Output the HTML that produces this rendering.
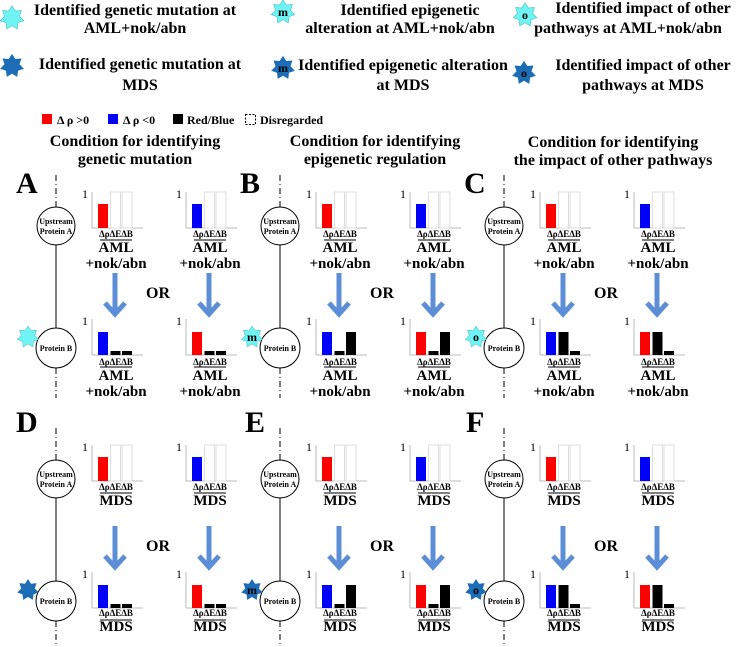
<!DOCTYPE html>
<html><head><meta charset="utf-8"><style>
html,body{margin:0;padding:0;background:#fff}
svg{display:block;font-family:"Liberation Serif","DejaVu Serif","Times New Roman",serif}
svg text{font-family:"Liberation Serif","DejaVu Serif","Times New Roman",serif;font-weight:bold;fill:#000}
.s8{font-size:8px}.s9{font-size:9px}.s15{font-size:15px}.s16{font-size:16px}.s12{font-size:12px}
svg text.one{font-size:12px;font-weight:normal}
</style></head><body>
<svg width="740" height="647" viewBox="0 0 740 647" xmlns="http://www.w3.org/2000/svg" font-family="Liberation Serif, DejaVu Serif, serif" font-weight="bold">
<defs>
<polygon id="st" points="0,-11 3.04,-6.31 8.6,-6.86 6.82,-1.56 10.72,2.45 5.47,4.36 4.77,9.91 0,7 -4.77,9.91 -5.47,4.36 -10.72,2.45 -6.82,-1.56 -8.6,-6.86 -3.04,-6.31"/>
<g id="ax"><path d="M0,0V36H51" fill="none" stroke="#bbb" stroke-width="1"/></g>
<g id="em"><rect x="18.5" y="0" width="10" height="36" fill="none" stroke="#ddd"/><rect x="30" y="0" width="10" height="36" fill="none" stroke="#ddd"/></g>
<g id="arr" fill="none" stroke="#5b8ed6" stroke-width="5"><line x1="0" y1="273" x2="0" y2="313"/><polyline points="-10,303 0,314 10,303"/></g>
<g id="sk">
<line x1="56" y1="175" x2="56" y2="207" stroke="#000" stroke-dasharray="6,3,1,3"/>
<circle cx="56" cy="226" r="19" fill="#fff" stroke="#000"/>
<line x1="56" y1="245" x2="56" y2="328" stroke="#000"/>
<circle cx="56" cy="348" r="20" fill="#fff" stroke="#000"/>
<line x1="56" y1="368" x2="56" y2="398" stroke="#000" stroke-dasharray="6,3,1,3"/>
<use href="#ax" x="92" y="192"/><use href="#em" x="92" y="192"/>
<use href="#ax" x="186" y="192"/><use href="#em" x="186" y="192"/>
<use href="#ax" x="92" y="319"/><use href="#ax" x="186" y="319"/>
<rect x="98" y="204" width="10" height="24" fill="#f00"/>
<rect x="192" y="204" width="10" height="24" fill="#00f"/>
<rect x="98" y="332" width="10" height="23" fill="#00f"/>
<rect x="192" y="332" width="10" height="23" fill="#f00"/>
<line x1="100" y1="240" x2="132" y2="240" stroke="#000"/>
<line x1="194" y1="240" x2="226" y2="240" stroke="#000"/>
<line x1="100" y1="367" x2="132" y2="367" stroke="#000"/>
<line x1="194" y1="367" x2="226" y2="367" stroke="#000"/>
<use href="#arr" x="115"/><use href="#arr" x="209"/>
</g>
<g id="bA"><rect x="110.5" y="351" width="10" height="4"/><rect x="122" y="351" width="10" height="4"/><rect x="204.5" y="351" width="10" height="4"/><rect x="216" y="351" width="10" height="4"/></g>
<g id="bB"><rect x="110.5" y="351" width="10" height="4"/><rect x="122" y="332" width="10" height="23"/><rect x="204.5" y="351" width="10" height="4"/><rect x="216" y="332" width="10" height="23"/></g>
<g id="bC"><rect x="110.5" y="332" width="10" height="23"/><rect x="122" y="351" width="10" height="4"/><rect x="204.5" y="332" width="10" height="23"/><rect x="216" y="351" width="10" height="4"/></g>
</defs>

<use href="#st" transform="translate(12,18) scale(1.1)" fill="#6ff3f3" stroke="#3bbcc8" stroke-width="0.5"/>
<text class="s16" x="135" y="15" text-anchor="middle">Identified genetic mutation at</text>
<text class="s16" x="135" y="33" text-anchor="middle">AML+nok/abn</text>
<use href="#st" transform="translate(283,12) scale(1.1)" fill="#6ff3f3" stroke="#3bbcc8" stroke-width="0.5"/>
<text class="s12" x="283" y="16" text-anchor="middle">m</text>
<text class="s16" x="410" y="15" text-anchor="middle">Identified epigenetic</text>
<text class="s16" x="400" y="33" text-anchor="middle">alteration at AML+nok/abn</text>
<use href="#st" transform="translate(525,15) scale(1.1)" fill="#6ff3f3" stroke="#3bbcc8" stroke-width="0.5"/>
<text class="s12" x="525" y="19" text-anchor="middle">o</text>
<text class="s16" x="643" y="13" text-anchor="middle">Identified impact of other</text>
<text class="s16" x="628" y="33" text-anchor="middle">pathways at AML+nok/abn</text>

<use href="#st" transform="translate(12,66) scale(1.1)" fill="#1c6db5"/>
<text class="s16" x="140" y="69" text-anchor="middle">Identified genetic mutation at</text>
<text class="s16" x="140" y="90" text-anchor="middle">MDS</text>
<use href="#st" transform="translate(283,68) scale(1.1)" fill="#1c6db5"/>
<text class="s12" x="283" y="72" text-anchor="middle">m</text>
<text class="s16" x="403" y="70" text-anchor="middle">Identified epigenetic alteration</text>
<text class="s16" x="403" y="90" text-anchor="middle">at MDS</text>
<use href="#st" transform="translate(524,73) scale(1.1)" fill="#1c6db5"/>
<text class="s12" x="524" y="77" text-anchor="middle">o</text>
<text class="s16" x="643" y="70" text-anchor="middle">Identified impact of other</text>
<text class="s16" x="643" y="90" text-anchor="middle">pathways at MDS</text>

<rect x="42" y="114" width="10" height="10" fill="#f00"/>
<text class="s12" x="57" y="124">Δ ρ &gt;0</text>
<rect x="108" y="114" width="10" height="10" fill="#00f"/>
<text class="s12" x="123" y="124">Δ ρ &lt;0</text>
<rect x="173" y="114" width="10" height="10" fill="#000"/>
<text class="s12" x="187" y="124">Red/Blue</text>
<rect x="245.5" y="114.5" width="10" height="10" fill="none" stroke="#000" stroke-dasharray="2,1.5"/>
<text class="s12" x="260" y="124">Disregarded</text>

<text class="s16" x="135" y="146" text-anchor="middle">Condition for identifying</text>
<text class="s16" x="135" y="164" text-anchor="middle">genetic mutation</text>
<text class="s16" x="375" y="146" text-anchor="middle">Condition for identifying</text>
<text class="s16" x="375" y="164" text-anchor="middle">epigenetic regulation</text>
<text class="s16" x="613" y="147" text-anchor="middle">Condition for identifying</text>
<text class="s16" x="613" y="165" text-anchor="middle">the impact of other pathways</text>

<text x="16" y="193" style="font-size:30px">A</text>
<text x="240" y="193" style="font-size:30px">B</text>
<text x="464" y="193" style="font-size:30px">C</text>
<text x="16" y="432" style="font-size:30px">D</text>
<text x="245" y="432" style="font-size:30px">E</text>
<text x="466" y="432" style="font-size:30px">F</text>

<g transform="translate(0,0)">
<use href="#sk"/><use href="#bA"/>
<use href="#st" transform="translate(28,337)" fill="#6ff3f3" stroke="#3bbcc8" stroke-width="0.5"/>
<text class="s8" x="56" y="224" text-anchor="middle">Upstream</text><text class="s8" x="56" y="234" text-anchor="middle">Protein A</text><text class="s8" x="56" y="351" text-anchor="middle">Protein B</text>
<text class="one" x="82" y="198">1</text><text class="one" x="176" y="198">1</text><text class="one" x="82" y="325">1</text><text class="one" x="176" y="325">1</text>
<text class="s16" x="158" y="298" text-anchor="middle">OR</text>
<text class="s9" x="116" y="237" text-anchor="middle">ΔρΔEΔB</text><text class="s15" x="116" y="252" text-anchor="middle">AML</text><text class="s15" x="116" y="268" text-anchor="middle">+nok/abn</text>
<text class="s9" x="210" y="237" text-anchor="middle">ΔρΔEΔB</text><text class="s15" x="210" y="252" text-anchor="middle">AML</text><text class="s15" x="210" y="268" text-anchor="middle">+nok/abn</text>
<text class="s9" x="116" y="365" text-anchor="middle">ΔρΔEΔB</text><text class="s15" x="116" y="380" text-anchor="middle">AML</text><text class="s15" x="116" y="396" text-anchor="middle">+nok/abn</text>
<text class="s9" x="210" y="365" text-anchor="middle">ΔρΔEΔB</text><text class="s15" x="210" y="380" text-anchor="middle">AML</text><text class="s15" x="210" y="396" text-anchor="middle">+nok/abn</text>
</g>
<g transform="translate(224,0)">
<use href="#sk"/><use href="#bB"/>
<use href="#st" transform="translate(28,337)" fill="#6ff3f3" stroke="#3bbcc8" stroke-width="0.5"/>
<text class="s12" x="28" y="341" text-anchor="middle">m</text>
<text class="s8" x="56" y="224" text-anchor="middle">Upstream</text><text class="s8" x="56" y="234" text-anchor="middle">Protein A</text><text class="s8" x="56" y="351" text-anchor="middle">Protein B</text>
<text class="one" x="82" y="198">1</text><text class="one" x="176" y="198">1</text><text class="one" x="82" y="325">1</text><text class="one" x="176" y="325">1</text>
<text class="s16" x="158" y="298" text-anchor="middle">OR</text>
<text class="s9" x="116" y="237" text-anchor="middle">ΔρΔEΔB</text><text class="s15" x="116" y="252" text-anchor="middle">AML</text><text class="s15" x="116" y="268" text-anchor="middle">+nok/abn</text>
<text class="s9" x="210" y="237" text-anchor="middle">ΔρΔEΔB</text><text class="s15" x="210" y="252" text-anchor="middle">AML</text><text class="s15" x="210" y="268" text-anchor="middle">+nok/abn</text>
<text class="s9" x="116" y="365" text-anchor="middle">ΔρΔEΔB</text><text class="s15" x="116" y="380" text-anchor="middle">AML</text><text class="s15" x="116" y="396" text-anchor="middle">+nok/abn</text>
<text class="s9" x="210" y="365" text-anchor="middle">ΔρΔEΔB</text><text class="s15" x="210" y="380" text-anchor="middle">AML</text><text class="s15" x="210" y="396" text-anchor="middle">+nok/abn</text>
</g>
<g transform="translate(448,0)">
<use href="#sk"/><use href="#bC"/>
<use href="#st" transform="translate(28,337)" fill="#6ff3f3" stroke="#3bbcc8" stroke-width="0.5"/>
<text class="s12" x="28" y="341" text-anchor="middle">o</text>
<text class="s8" x="56" y="224" text-anchor="middle">Upstream</text><text class="s8" x="56" y="234" text-anchor="middle">Protein A</text><text class="s8" x="56" y="351" text-anchor="middle">Protein B</text>
<text class="one" x="82" y="198">1</text><text class="one" x="176" y="198">1</text><text class="one" x="82" y="325">1</text><text class="one" x="176" y="325">1</text>
<text class="s16" x="158" y="298" text-anchor="middle">OR</text>
<text class="s9" x="116" y="237" text-anchor="middle">ΔρΔEΔB</text><text class="s15" x="116" y="252" text-anchor="middle">AML</text><text class="s15" x="116" y="268" text-anchor="middle">+nok/abn</text>
<text class="s9" x="210" y="237" text-anchor="middle">ΔρΔEΔB</text><text class="s15" x="210" y="252" text-anchor="middle">AML</text><text class="s15" x="210" y="268" text-anchor="middle">+nok/abn</text>
<text class="s9" x="116" y="365" text-anchor="middle">ΔρΔEΔB</text><text class="s15" x="116" y="380" text-anchor="middle">AML</text><text class="s15" x="116" y="396" text-anchor="middle">+nok/abn</text>
<text class="s9" x="210" y="365" text-anchor="middle">ΔρΔEΔB</text><text class="s15" x="210" y="380" text-anchor="middle">AML</text><text class="s15" x="210" y="396" text-anchor="middle">+nok/abn</text>
</g>

<g transform="translate(0,253)">
<use href="#sk"/><use href="#bA"/>
<use href="#st" transform="translate(28,337)" fill="#1c6db5"/>
<text class="s8" x="56" y="224" text-anchor="middle">Upstream</text><text class="s8" x="56" y="234" text-anchor="middle">Protein A</text><text class="s8" x="56" y="351" text-anchor="middle">Protein B</text>
<text class="one" x="82" y="198">1</text><text class="one" x="176" y="198">1</text><text class="one" x="82" y="325">1</text><text class="one" x="176" y="325">1</text>
<text class="s16" x="158" y="298" text-anchor="middle">OR</text>
<text class="s9" x="116" y="237" text-anchor="middle">ΔρΔEΔB</text><text class="s15" x="116" y="252" text-anchor="middle">MDS</text>
<text class="s9" x="210" y="237" text-anchor="middle">ΔρΔEΔB</text><text class="s15" x="210" y="252" text-anchor="middle">MDS</text>
<text class="s9" x="116" y="363" text-anchor="middle">ΔρΔEΔB</text><text class="s15" x="116" y="378" text-anchor="middle">MDS</text>
<text class="s9" x="210" y="363" text-anchor="middle">ΔρΔEΔB</text><text class="s15" x="210" y="378" text-anchor="middle">MDS</text>
</g>
<g transform="translate(224,253)">
<use href="#sk"/><use href="#bB"/>
<use href="#st" transform="translate(28,337)" fill="#1c6db5"/>
<text class="s12" x="28" y="341" text-anchor="middle">m</text>
<text class="s8" x="56" y="224" text-anchor="middle">Upstream</text><text class="s8" x="56" y="234" text-anchor="middle">Protein A</text><text class="s8" x="56" y="351" text-anchor="middle">Protein B</text>
<text class="one" x="82" y="198">1</text><text class="one" x="176" y="198">1</text><text class="one" x="82" y="325">1</text><text class="one" x="176" y="325">1</text>
<text class="s16" x="158" y="298" text-anchor="middle">OR</text>
<text class="s9" x="116" y="237" text-anchor="middle">ΔρΔEΔB</text><text class="s15" x="116" y="252" text-anchor="middle">MDS</text>
<text class="s9" x="210" y="237" text-anchor="middle">ΔρΔEΔB</text><text class="s15" x="210" y="252" text-anchor="middle">MDS</text>
<text class="s9" x="116" y="363" text-anchor="middle">ΔρΔEΔB</text><text class="s15" x="116" y="378" text-anchor="middle">MDS</text>
<text class="s9" x="210" y="363" text-anchor="middle">ΔρΔEΔB</text><text class="s15" x="210" y="378" text-anchor="middle">MDS</text>
</g>
<g transform="translate(448,253)">
<use href="#sk"/><use href="#bC"/>
<use href="#st" transform="translate(28,337)" fill="#1c6db5"/>
<text class="s12" x="28" y="341" text-anchor="middle">o</text>
<text class="s8" x="56" y="224" text-anchor="middle">Upstream</text><text class="s8" x="56" y="234" text-anchor="middle">Protein A</text><text class="s8" x="56" y="351" text-anchor="middle">Protein B</text>
<text class="one" x="82" y="198">1</text><text class="one" x="176" y="198">1</text><text class="one" x="82" y="325">1</text><text class="one" x="176" y="325">1</text>
<text class="s16" x="158" y="298" text-anchor="middle">OR</text>
<text class="s9" x="116" y="237" text-anchor="middle">ΔρΔEΔB</text><text class="s15" x="116" y="252" text-anchor="middle">MDS</text>
<text class="s9" x="210" y="237" text-anchor="middle">ΔρΔEΔB</text><text class="s15" x="210" y="252" text-anchor="middle">MDS</text>
<text class="s9" x="116" y="363" text-anchor="middle">ΔρΔEΔB</text><text class="s15" x="116" y="378" text-anchor="middle">MDS</text>
<text class="s9" x="210" y="363" text-anchor="middle">ΔρΔEΔB</text><text class="s15" x="210" y="378" text-anchor="middle">MDS</text>
</g>
</svg>
</body></html>
